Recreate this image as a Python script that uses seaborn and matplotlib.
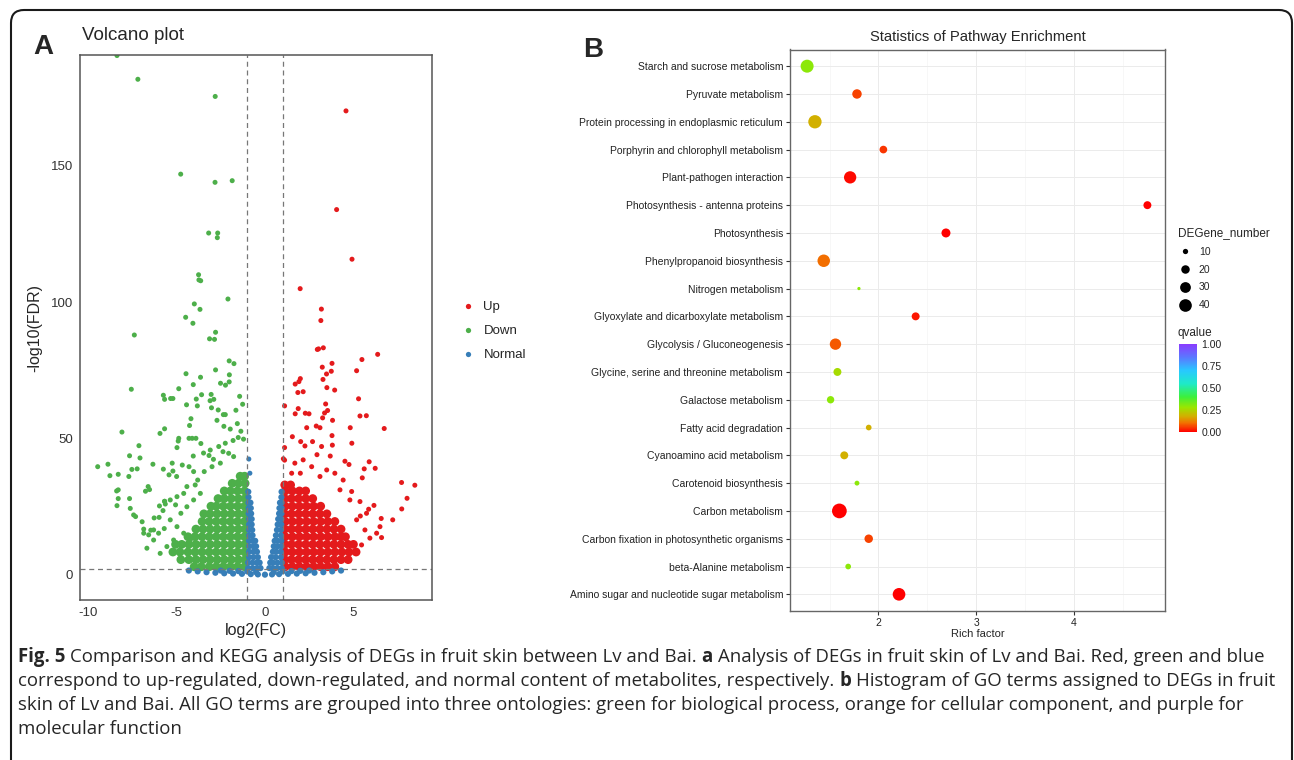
import numpy as np
import pandas as pd
import matplotlib
matplotlib.use("Agg")
import matplotlib.pyplot as plt
import seaborn as sns
from matplotlib import font_manager
from matplotlib.colors import LinearSegmentedColormap, Normalize
from matplotlib.patches import FancyBboxPatch
from matplotlib.lines import Line2D
from matplotlib.transforms import IdentityTransform
import matplotlib.cm as cm

# ---------------- data: panel A (volcano) ----------------
down_x = [-8.36, -7.18, -2.81, -4.76, -2.82, -1.85, -3.18, -2.67, -2.69, -3.75, -3.73, -3.63, -2.09,
          -3.99, -3.67, -4.48, -4.07, -7.38, -2.79, -3.13, -2.85, -2.02, -1.75, -4.46, -2.79, -2.01,
          -3.64, -2.51, -2.23, -2.02, -4.05, -7.55, -4.87, -5.74, -5.67, -5.33, -5.20, -3.58, -3.88,
          -3.04, -3.10, -2.89, -1.43, -4.43, -3.82, -3.02, -1.26, -1.64, -2.64, -2.24, -2.35, -4.18,
          -4.26, -8.08, -5.67, -5.93, -4.29, -4.11, -3.90, -4.87, -7.12, -9.45, -8.87, -8.76, -8.29,
          -7.65, -7.52, -7.22, -7.69, -7.06, -6.33, -8.38, -8.29, -8.29, -8.36, -7.65, -7.61, -7.42,
          -7.31, -6.75, -6.60, -6.52, -6.94, -6.85, -6.45, -6.26, -5.98, -5.67, -2.71, -1.56, -2.32,
          -1.96, -1.36, -1.51, -1.80, -1.21, -3.62, -5.24, -5.74, -5.20, -4.67, -5.42, -4.99, -4.97,
          -4.90, -4.05, -3.47, -3.16, -2.91, -4.29, -4.03, -3.80, -4.41, -4.59, -4.97, -5.35, -5.63,
          -5.05, -4.75, -4.41, -4.03, -3.65, -3.94, -3.43, -2.99, -2.52, -2.05, -1.77, -2.37, -2.61,
          -2.24, -3.09, -6.85, -6.57, -6.29, -6.01, -5.69, -5.76, -5.96, -5.67, -5.35, -4.97, -4.59,
          -4.22, -5.16, -5.54, -6.29, -6.67, -5.92]
down_y = [190.5, 181.8, 175.5, 147.0, 144.0, 144.6, 125.4, 125.4, 123.7, 110.1, 108.2, 107.9, 101.2,
          99.4, 97.4, 94.5, 92.3, 88.0, 89.0, 86.6, 86.4, 78.5, 77.5, 73.8, 75.2, 73.4,
          72.5, 70.3, 69.6, 70.8, 69.8, 68.1, 68.3, 65.9, 64.4, 64.7, 64.7, 66.1, 64.5,
          66.2, 63.9, 64.4, 65.5, 62.4, 62.0, 61.3, 62.6, 60.4, 60.5, 58.8, 58.8, 57.3,
          54.8, 52.4, 53.6, 51.9, 50.1, 50.1, 50.1, 50.1, 47.4, 39.7, 40.6, 36.4, 36.9,
          43.7, 38.7, 38.9, 36.1, 42.9, 40.6, 30.8, 31.2, 28.0, 25.4, 28.0, 24.4, 22.0,
          21.4, 30.7, 32.4, 31.3, 19.5, 16.8, 16.4, 20.9, 21.1, 27.0, 56.7, 55.5, 54.5,
          53.5, 52.7, 50.4, 49.3, 49.8, 48.2, 41.0, 38.8, 38.1, 40.3, 36.7, 36.1, 46.7,
          49.1, 43.6, 44.7, 43.8, 42.4, 39.7, 37.9, 34.8, 32.4, 29.9, 28.7, 27.5, 26.0,
          25.7, 22.6, 25.0, 27.5, 29.9, 33.0, 37.9, 39.7, 41.0, 44.6, 43.4, 45.2, 47.1,
          48.3, 45.8, 15.3, 14.7, 16.5, 15.3, 17.0, 23.6, 25.3, 27.0, 20.2, 17.7, 15.3,
          12.8, 12.8, 10.4, 12.8, 9.8, 7.9]

up_x = [4.58, 4.05, 4.92, 1.99, 3.19, 3.16, 2.96, 3.03, 3.30, 6.37, 5.48, 5.18, 3.24, 3.79, 3.75,
        3.48, 3.28, 3.50, 3.94, 2.00, 1.92, 1.71, 1.86, 2.16, 1.11, 1.88, 1.71, 2.28, 2.49, 3.43,
        3.54, 3.37, 3.26, 5.29, 5.37, 5.73, 3.82, 6.74, 4.82, 3.11, 2.36, 2.90, 1.55, 1.11, 4.91,
        5.89, 6.23, 5.61, 5.50, 7.72, 8.47, 8.03, 7.73, 7.22, 6.57, 1.11, 1.04, 2.02, 2.69, 2.26,
        3.79, 3.81, 3.20, 3.69, 2.94, 4.52, 4.75, 6.16, 5.86, 5.39, 6.50, 6.31, 6.59, 5.93, 5.46,
        5.65, 5.18, 4.80, 4.90, 4.24, 4.42, 3.95, 3.49, 3.11, 2.64, 2.16, 1.69, 1.51, 2.00, 5.37,
        5.74]
up_y = [170.2, 134.0, 115.8, 105.0, 97.5, 93.3, 82.7, 82.9, 83.3, 80.9, 79.0, 74.9, 76.2, 77.6, 74.7,
        73.7, 71.7, 68.7, 67.8, 72.0, 70.9, 70.0, 66.9, 67.2, 62.0, 61.0, 59.1, 59.3, 59.1, 62.7,
        60.3, 59.4, 57.6, 64.6, 58.3, 58.4, 56.7, 53.7, 54.0, 54.0, 54.0, 54.6, 50.7, 46.7, 48.3,
        41.5, 39.1, 38.9, 35.6, 33.9, 32.9, 28.1, 24.2, 20.2, 20.7, 42.1, 42.6, 48.9, 48.9, 47.3,
        51.1, 47.6, 47.1, 43.6, 44.1, 41.7, 40.5, 25.5, 24.1, 21.6, 17.7, 15.3, 13.7, 13.5, 11.0,
        16.5, 20.2, 27.5, 30.6, 31.2, 34.8, 37.3, 38.5, 36.1, 39.7, 42.2, 41.0, 37.3, 37.3, 26.9,
        22.6]

normal_x = [-0.91, -0.85]
normal_y = [42.5, 37.3]

# dense cores, read row by row (y level, x positions)
down_core_y = [3.0, 5.6, 8.4, 11.2, 14.0, 16.8, 19.6, 22.4, 25.2, 28.0, 30.8, 33.6, 36.2]
down_core_x = [
    [-1.15, -1.55, -1.95, -2.35, -2.75, -3.15, -3.6, -4.0],
    [-1.12, -1.5, -1.9, -2.3, -2.7, -3.1, -3.5, -3.9, -4.3, -4.75],
    [-1.15, -1.55, -1.95, -2.35, -2.75, -3.15, -3.55, -3.95, -4.35, -4.8, -5.2],
    [-1.12, -1.5, -1.9, -2.3, -2.7, -3.1, -3.5, -3.9, -4.3, -4.7, -5.05],
    [-1.15, -1.55, -1.95, -2.35, -2.75, -3.15, -3.55, -3.95, -4.35],
    [-1.12, -1.5, -1.9, -2.3, -2.7, -3.1, -3.5, -3.9],
    [-1.15, -1.55, -1.95, -2.35, -2.75, -3.15, -3.55],
    [-1.12, -1.5, -1.9, -2.3, -2.7, -3.1, -3.45],
    [-1.15, -1.55, -1.95, -2.35, -2.75, -3.05],
    [-1.12, -1.5, -1.9, -2.3, -2.65],
    [-1.15, -1.55, -1.95, -2.3],
    [-1.12, -1.5, -1.85],
    [-1.15, -1.4],
]
up_core_y = [3.0, 5.6, 8.4, 11.2, 14.0, 16.8, 19.6, 22.4, 25.2, 28.0, 30.8, 33.0]
up_core_x = [
    [1.15, 1.55, 1.95, 2.35, 2.75, 3.15, 3.55, 3.95],
    [1.12, 1.5, 1.9, 2.3, 2.7, 3.1, 3.5, 3.9, 4.3, 4.7],
    [1.15, 1.55, 1.95, 2.35, 2.75, 3.15, 3.55, 3.95, 4.35, 4.75, 5.15],
    [1.12, 1.5, 1.9, 2.3, 2.7, 3.1, 3.5, 3.9, 4.3, 4.7, 5.0],
    [1.15, 1.55, 1.95, 2.35, 2.75, 3.15, 3.55, 3.95, 4.3, 4.55],
    [1.12, 1.5, 1.9, 2.3, 2.7, 3.1, 3.5, 3.9, 4.3],
    [1.15, 1.55, 1.95, 2.35, 2.75, 3.15, 3.55, 3.95],
    [1.12, 1.5, 1.9, 2.3, 2.7, 3.1, 3.5],
    [1.15, 1.55, 1.95, 2.35, 2.75, 3.15],
    [1.12, 1.5, 1.9, 2.3, 2.7],
    [1.15, 1.55, 1.95, 2.3],
    [1.12, 1.45],
]
normal_core_y = [2.5, 4.5, 6.5, 8.5, 10.5, 12.5, 14.5, 16.5, 18.5, 20.5, 22.5, 24.5, 26.5, 28.5, 30.5]
normal_core_x = [
    [-0.95, -0.7, -0.45, -0.25, 0.25, 0.45, 0.7, 0.95],
    [-0.95, -0.7, -0.45, -0.3, 0.3, 0.45, 0.7, 0.95],
    [-0.9, -0.65, -0.4, 0.35, 0.6, 0.9],
    [-0.9, -0.65, -0.45, 0.45, 0.65, 0.9],
    [-0.9, -0.65, -0.5, 0.5, 0.7, 0.92],
    [-0.9, -0.7, -0.55, 0.55, 0.72, 0.92],
    [-0.9, -0.7, 0.62, 0.9],
    [-0.9, -0.72, 0.68, 0.9],
    [-0.9, -0.75, 0.72, 0.92],
    [-0.9, -0.75, 0.75, 0.92],
    [-0.92, -0.78, 0.8, 0.93],
    [-0.92, -0.8, 0.82, 0.94],
    [-0.93, -0.82, 0.85, 0.94],
    [-0.93, 0.93],
    [-0.94, 0.94],
]
normal_band_x = [-4.3, -3.8, -3.3, -2.8, -2.3, -1.8, -1.3, -0.8, -0.4, 0.0, 0.4, 0.8, 1.3, 1.8, 2.3,
                 2.8, 3.3, 3.8, 4.3, -2.5, -2.0, -1.5, -1.0, -0.5, 0.5, 1.0, 1.5, 2.0, 2.5]
normal_band_y = [1.6, 1.3, 1.0, 0.8, 0.6, 0.5, 0.4, 0.3, 0.2, 0.1, 0.2, 0.3, 0.4, 0.5, 0.6,
                 0.8, 1.0, 1.3, 1.6, 1.6, 1.5, 1.4, 1.3, 1.0, 1.0, 1.3, 1.4, 1.5, 1.6]

groups = ["Up", "Down", "Normal"]
group_colors = {"Up": "#E41A1C", "Down": "#4DAF4A", "Normal": "#377EB8"}

# ---------------- data: panel B (KEGG bubbles) ----------------
pathways = ["Starch and sucrose metabolism", "Pyruvate metabolism",
            "Protein processing in endoplasmic reticulum", "Porphyrin and chlorophyll metabolism",
            "Plant-pathogen interaction", "Photosynthesis - antenna proteins", "Photosynthesis",
            "Phenylpropanoid biosynthesis", "Nitrogen metabolism",
            "Glyoxylate and dicarboxylate metabolism", "Glycolysis / Gluconeogenesis",
            "Glycine, serine and threonine metabolism", "Galactose metabolism",
            "Fatty acid degradation", "Cyanoamino acid metabolism", "Carotenoid biosynthesis",
            "Carbon metabolism", "Carbon fixation in photosynthetic organisms",
            "beta-Alanine metabolism", "Amino sugar and nucleotide sugar metabolism"]
rich_factor = [1.27, 1.78, 1.35, 2.05, 1.71, 4.75, 2.69, 1.44, 1.80, 2.38,
               1.56, 1.58, 1.51, 1.90, 1.65, 1.78, 1.60, 1.90, 1.69, 2.21]
deg_number = [42, 24, 44, 17, 38, 18, 22, 39, 6, 18,
              33, 18, 16, 11, 18, 9, 53, 20, 11, 40]
qvalue = [0.30, 0.06, 0.18, 0.05, 0.01, 0.0, 0.0, 0.10, 0.30, 0.02,
          0.08, 0.26, 0.30, 0.18, 0.18, 0.30, 0.0, 0.06, 0.30, 0.0]
size_legend = [10, 20, 30, 40]
q_ticks = [0.0, 0.25, 0.5, 0.75, 1.0]

caption_lines = [
    [("Fig. 5", True), ("Comparison and KEGG analysis of DEGs in fruit skin between Lv and Bai.", False),
     ("a", True), ("Analysis of DEGs in fruit skin of Lv and Bai. Red, green and blue", False)],
    [("correspond to up-regulated, down-regulated, and normal content of metabolites, respectively.", False),
     ("b", True), ("Histogram of GO terms assigned to DEGs in fruit", False)],
    [("skin of Lv and Bai. All GO terms are grouped into three ontologies: green for biological process, "
      "orange for cellular component, and purple for", False)],
    [("molecular function", False)],
]

# ---------------- setup ----------------
W, H = 1294, 760
sns.set_style("white")
plt.rcParams["font.family"] = ["Liberation Sans", "DejaVu Sans"]
plt.rcParams["axes.unicode_minus"] = False
installed = {f.name for f in font_manager.fontManager.ttflist}
cap_font = "Liberation Sans Narrow" if "Liberation Sans Narrow" in installed else "Open Sans"

fig = plt.figure(figsize=(W / 100, H / 100), dpi=100)
fig.patch.set_facecolor("white")


def fx(x):
    return x / W


def fy(y):
    return 1 - y / H


# outer rounded frame
frame = FancyBboxPatch((11, -40), 1281, 790, boxstyle="round,pad=0,rounding_size=13",
                       transform=IdentityTransform(), fill=False, ec="#1a1a1a", lw=1.5)
fig.add_artist(frame)

# ---------------- panel A ----------------
def expand(rows_y, rows_x, name):
    xs, ys = [], []
    for yy, row in zip(rows_y, rows_x):
        xs += row
        ys += [yy] * len(row)
    return pd.DataFrame({"x": xs, "y": ys, "group": name})


core = pd.concat([expand(down_core_y, down_core_x, "Down"),
                  expand(up_core_y, up_core_x, "Up")])
normal_core = pd.concat([expand(normal_core_y, normal_core_x, "Normal"),
                         pd.DataFrame({"x": normal_band_x, "y": normal_band_y, "group": "Normal"})])
outl = pd.concat([pd.DataFrame({"x": down_x, "y": down_y, "group": "Down"}),
                  pd.DataFrame({"x": up_x, "y": up_y, "group": "Up"}),
                  pd.DataFrame({"x": normal_x, "y": normal_y, "group": "Normal"})])

ax_a = fig.add_axes([fx(80), fy(600), 352 / W, 545 / H])
sns.scatterplot(data=core, x="x", y="y", hue="group", palette=group_colors, s=40,
                linewidth=0, legend=False, ax=ax_a)
sns.scatterplot(data=normal_core, x="x", y="y", hue="group", palette=group_colors, s=20,
                linewidth=0, legend=False, ax=ax_a)
sns.scatterplot(data=outl, x="x", y="y", hue="group", palette=group_colors, s=13,
                linewidth=0, legend=False, ax=ax_a)
for v in (-1, 1):
    ax_a.axvline(v, color="#777777", lw=0.9, ls=(0, (4, 3)))
ax_a.axhline(2, color="#777777", lw=0.9, ls=(0, (4, 3)))
ax_a.set_xlim(-10.45, 9.44)
ax_a.set_ylim(-9.2, 190.7)
ax_a.set_xticks([-10, -5, 0, 5])
ax_a.set_yticks([0, 50, 100, 150])
ax_a.tick_params(length=3, width=0.8, color="#333333", labelsize=9.5, labelcolor="#333333", pad=2)
ax_a.set_xlabel("log2(FC)", fontsize=11.5, labelpad=3)
ax_a.set_ylabel("-log10(FDR)", fontsize=11.5, labelpad=6)
for sp in ax_a.spines.values():
    sp.set_color("#555555")
    sp.set_linewidth(1.1)

hand_a = [Line2D([], [], marker="o", ls="", color=group_colors[g], markersize=3.8,
                 markeredgewidth=0) for g in groups]
ax_a.legend(hand_a, groups, loc="upper left", bbox_to_anchor=(fx(461), fy(301)),
            bbox_transform=fig.transFigure, frameon=False, fontsize=9.5, handlelength=1.0,
            handletextpad=0.7, labelspacing=0.9, borderpad=0, borderaxespad=0)

fig.text(fx(82), fy(35), "Volcano plot", fontsize=13.5, va="center", ha="left")
fig.text(fx(33), fy(47), "A", fontsize=20, fontweight="bold", va="center", ha="left")

# ---------------- panel B ----------------
rainbow = LinearSegmentedColormap.from_list(
    "qv", [(0.0, "#FF0000"), (0.1, "#F27000"), (0.18, "#D2B000"), (0.28, "#9AE600"),
           (0.4, "#3CF03C"), (0.55, "#1EEAC8"), (0.7, "#28C8FF"), (0.85, "#5A78FF"),
           (1.0, "#8A3CFF")])
size_range = (5.4, 112.5)
size_norm = (6, 53)


def area(n):
    return size_range[0] + (n - size_norm[0]) / (size_norm[1] - size_norm[0]) * (size_range[1] - size_range[0])


df_b = pd.DataFrame({"pathway": pathways, "rich": rich_factor, "n": deg_number, "q": qvalue})
ax_b = fig.add_axes([fx(790), fy(611), 375 / W, 561.5 / H])
sns.scatterplot(data=df_b, x="rich", y="pathway", hue="q", palette=rainbow, hue_norm=(0, 1),
                size="n", sizes=size_range, size_norm=size_norm, linewidth=0, legend=False,
                ax=ax_b, zorder=3)
ax_b.set_yticks(range(len(pathways)))
ax_b.set_yticklabels(pathways)
ax_b.set_ylim(len(pathways) - 0.4, -0.6)
ax_b.set_xlim(1.095, 4.93)
ax_b.set_xticks([2, 3, 4])
ax_b.set_xticks([1.5, 2.5, 3.5, 4.5], minor=True)
ax_b.grid(True, which="major", color="#ebebeb", lw=0.7)
ax_b.grid(True, which="minor", axis="x", color="#f4f4f4", lw=0.5)
ax_b.set_axisbelow(True)
ax_b.tick_params(which="major", length=3, width=0.8, color="#333333", labelsize=7.5,
                 labelcolor="#222222", pad=2, left=True, bottom=True)
ax_b.tick_params(which="minor", length=0)
ax_b.set_xlabel("Rich factor", fontsize=8, labelpad=1)
ax_b.set_ylabel("")
for sp in ax_b.spines.values():
    sp.set_color("#666666")
    sp.set_linewidth(1.0)
ax_b.text(0.5, 1 + 12.5 / 561.5, "Statistics of Pathway Enrichment", transform=ax_b.transAxes,
          ha="center", va="center", fontsize=10.6)
fig.text(fx(583), fy(50), "B", fontsize=20, fontweight="bold", va="center", ha="left")

hand_b = [Line2D([], [], marker="o", ls="", color="black", markersize=np.sqrt(area(n)),
                 markeredgewidth=0) for n in size_legend]
leg_b = ax_b.legend(hand_b, [str(n) for n in size_legend], title="DEGene_number",
                    loc="upper left", bbox_to_anchor=(fx(1178), fy(227)),
                    bbox_transform=fig.transFigure, frameon=False, fontsize=7.5,
                    title_fontsize=8.5, handlelength=1.4, handletextpad=0.6,
                    labelspacing=0.75, borderpad=0, borderaxespad=0, alignment="left")

fig.text(fx(1178), fy(333), "qvalue", fontsize=8.5, va="center", ha="left")
cax = fig.add_axes([fx(1179), fy(432), 18 / W, 88 / H])
cb = fig.colorbar(cm.ScalarMappable(norm=Normalize(0, 1), cmap=rainbow), cax=cax)
cb.outline.set_visible(False)
cb.set_ticks(q_ticks)
cb.set_ticklabels([f"{t:.2f}" for t in q_ticks])
cax.tick_params(direction="in", length=3.5, width=0.7, color="white", labelsize=7.5,
                labelcolor="#222222", left=True, right=True, pad=3)

# ---------------- caption ----------------
fig.canvas.draw()
renderer = fig.canvas.get_renderer()


def width_of(s, size, bold):
    t = fig.text(0, 0, s, fontsize=size, fontweight="bold" if bold else "normal", family=cap_font)
    w = t.get_window_extent(renderer).width
    t.remove()
    return w


def line_width(segs, size):
    sp = width_of("a a", size, False) - width_of("aa", size, False)
    return sum(width_of(s, size, b) for s, b in segs) + sp * (len(segs) - 1)


widest = max(line_width(caption_lines[0], 10), line_width(caption_lines[1], 10))
cap_size = 10 * 1256 / widest
space = width_of("a a", cap_size, False) - width_of("aa", cap_size, False)
for i, segs in enumerate(caption_lines):
    x = 18
    for s, b in segs:
        t = fig.text(fx(x), fy(657 + 24 * i), s, fontsize=cap_size, family=cap_font,
                     fontweight="bold" if b else "normal", va="center", ha="left")
        x += t.get_window_extent(renderer).width + space

fig.savefig("out.png", dpi=100, facecolor="white")
